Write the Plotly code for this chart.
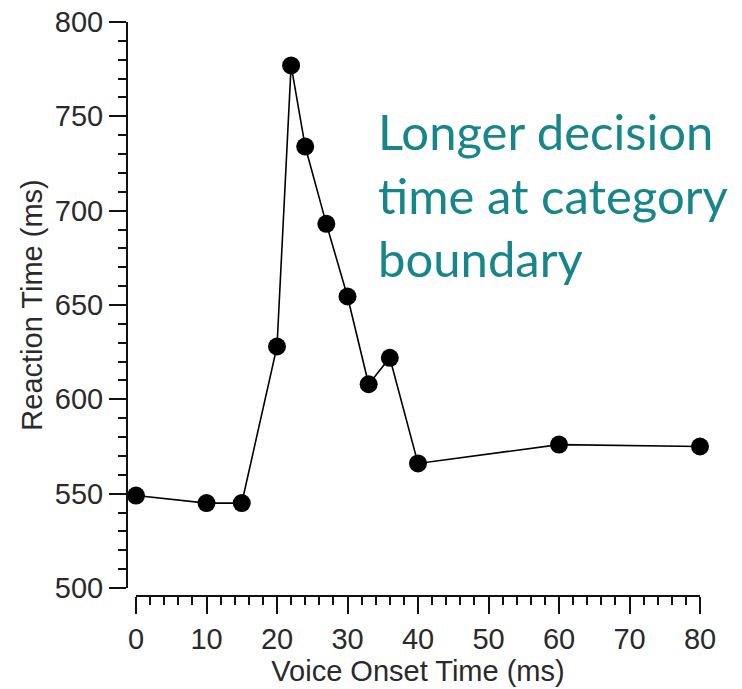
import plotly.graph_objects as go

# Mean reaction time for each voice onset time step
vot_ms = [0, 10, 15, 20, 22, 24, 27, 30, 33, 36, 40, 60, 80]
reaction_ms = [549, 545, 545, 628, 777, 734, 693, 654.5, 608, 622, 566, 576, 575]

x_ticks = [0, 10, 20, 30, 40, 50, 60, 70, 80]
y_ticks = [500, 550, 600, 650, 700, 750, 800]

note_lines = ["Longer decision", "time at category", "boundary"]

W, H = 742, 689
L, R, T, B = 127, 42, 22, 93
plot_w = W - L - R
plot_h = H - T - B

axis_font = dict(family="Liberation Sans, Arial, sans-serif", size=29, color="#2a2a2a")
line_col = "#111111"

fig = go.Figure(
    go.Scatter(
        x=vot_ms,
        y=reaction_ms,
        mode="lines+markers",
        line=dict(color="#000000", width=1.6),
        marker=dict(color="#000000", size=18),
        cliponaxis=False,
        showlegend=False,
    )
)

fig.update_layout(
    width=W,
    height=H,
    margin=dict(l=L, r=R, t=T, b=B, pad=0),
    paper_bgcolor="white",
    plot_bgcolor="white",
    xaxis=dict(
        domain=[9 / plot_w, 1],
        anchor="free",
        position=0,
        range=[0, 80],
        automargin=False,
        tickvals=x_ticks,
        ticktext=[str(v) for v in x_ticks],
        ticks="outside",
        ticklen=17,
        tickwidth=2,
        tickcolor=line_col,
        showline=True,
        linecolor=line_col,
        linewidth=2,
        showgrid=False,
        zeroline=False,
        tickfont=axis_font,
        minor=dict(dtick=2, ticks="outside", ticklen=8, tickwidth=2, tickcolor=line_col, showgrid=False),
        title=dict(text="Voice Onset Time (ms)", font=axis_font, standoff=4),
    ),
    yaxis=dict(
        domain=[8 / plot_h, 1],
        anchor="free",
        position=0,
        range=[500, 800],
        automargin=False,
        tickvals=y_ticks,
        ticktext=[str(v) for v in y_ticks],
        ticks="outside",
        ticklen=17,
        tickwidth=2,
        tickcolor=line_col,
        showline=True,
        linecolor=line_col,
        linewidth=2,
        showgrid=False,
        zeroline=False,
        tickfont=axis_font,
        minor=dict(dtick=10, ticks="outside", ticklen=8, tickwidth=2, tickcolor=line_col, showgrid=False),
        title=dict(text="Reaction Time (ms)", font=axis_font, standoff=3),
    ),
    annotations=[
        dict(
            text="<br>".join(note_lines),
            xref="paper",
            yref="paper",
            x=(376 - L) / plot_w,
            y=(596 - 100) / plot_h,
            xanchor="left",
            yanchor="top",
            align="left",
            showarrow=False,
            font=dict(family="Lato, sans-serif", size=49, color="#17868a"),
        )
    ],
)

fig.write_html("out.html")
